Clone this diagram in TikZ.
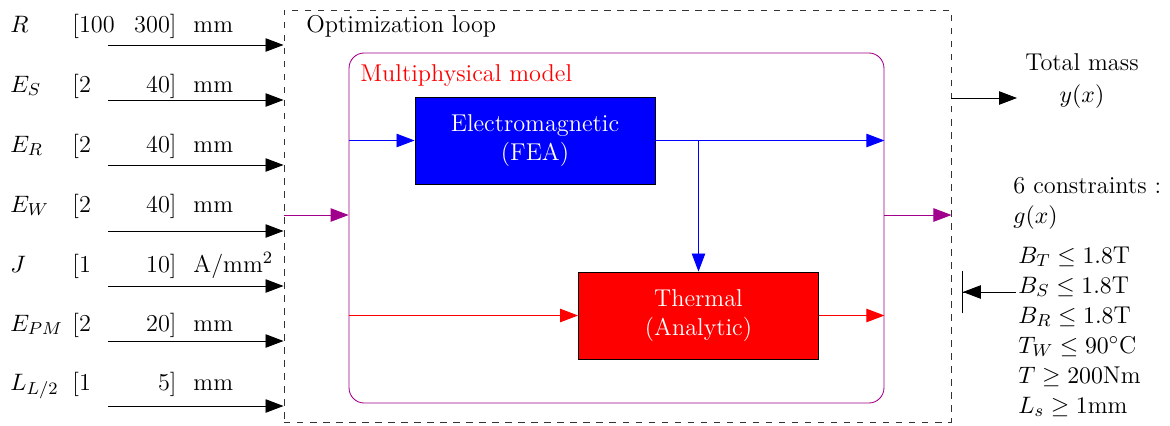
\documentclass[tikz,border=0pt]{standalone}
\usepackage{amsmath}
\usetikzlibrary{arrows.meta, positioning}
\definecolor{mypurple}{HTML}{A0008C}
\newcommand{\ampsqmm}{A/mm$^2$}
\tikzset{
	lbl/.style={
			inner sep=0pt
		},
	loopbox/.style={
			draw=black!80,
			dashed,
			minimum width=307.4pt,
			minimum height=189.8pt,
			inner sep=0pt
		},
	modelbox/.style={
			draw=mypurple,
			rounded corners=7pt,
			minimum width=246.5pt,
			minimum height=161.3pt,
			inner sep=0pt
		},
	modelblock/.style={
			draw=black,
			minimum width=110.6pt,
			minimum height=40.1pt,
			text=white,
			align=center,
			inner sep=0pt
		},
	emblock/.style={
			modelblock,
			fill=blue
		},
	thblock/.style={
			modelblock,
			fill=red
		}
}

\begin{document}
\begin{tikzpicture}[x=0.4608pt, y=-0.4608pt, >={Triangle[length=8.3pt,width=6.2pt]},
    every node/.style={font=\fontsize{11.2}{13.5}\selectfont}]
\useasboundingbox (0,0) rectangle (1170,425);

% optimization loop and model
\node[loopbox] (loop) at (617.5,216) {};
\node[lbl, anchor=base west] (looplbl) at (306,32) {Optimization loop};
\node[modelbox] (model) at (616.5,228) {};
\node[lbl, anchor=base west, text=red] (modellbl) at (360,81) {Multiphysical model};

\node[emblock] (em) at (535,140.5) {Electromagnetic\\(FEA)};
\node[thblock] (th) at (698.5,315.5) {Thermal\\(Analytic)};

\draw[->, blue] (model.west |- em.west) -- (em.west);
\draw[->, blue] (em.east) -- (model.east |- em.east);
\draw[->, blue] (em.east -| th.north) -- (th.north);
\draw[->, red] (model.west |- th.west) -- (th.west);
\draw[->, red] (th.east) -- (model.east |- th.east);

\coordinate (pin) at (284,215);
\draw[->, mypurple] (loop.west |- pin) -- (model.west |- pin);
\draw[->, mypurple] (model.east |- pin) -- (loop.east |- pin);

% design variables
\foreach \v/\lo/\hi/\u/\yl/\ya [count=\i] in {
    R/100/300/mm/32/45,
    E_S/2/40/mm/92/100,
    E_R/2/40/mm/152/165,
    E_W/2/40/mm/212/231,
    J/1/10/\ampsqmm/272/286,
    E_{PM}/2/20/mm/331/341,
    L_{L/2}/1/5/mm/390/406} {
  \node[lbl, anchor=base west] (var\i) at (10,\yl) {$\v$};
  \node[lbl, anchor=base west] (lo\i) at (72,\yl) {[\lo};
  \node[lbl, anchor=base east] (hi\i) at (177,\yl) {\hi]};
  \node[lbl, anchor=base west] (unit\i) at (193,\yl) {\u};
  \coordinate (in\i) at (108,\ya);
  \draw[->] (in\i) -- (loop.west |- in\i);
}

% outputs
\node[lbl, anchor=base] (mass) at (1082,70) {Total mass};
\node[lbl, anchor=base] (yx) at (1082,102) {$y(x)$};
\coordinate (yout) at (1017,98);
\draw[->] (loop.east |- yout) -- (yout);

\node[lbl, anchor=base west] (ncons) at (1013,193) {6 constraints :};
\node[lbl, anchor=base west] (gx) at (1013,223) {$g(x)$};
\foreach \c [count=\i] in {B_T \leq 1.8\text{T}, B_S \leq 1.8\text{T}, B_R \leq 1.8\text{T},
    T_W \leq 90^\circ\text{C}, T \geq 200\text{Nm}, L_s \geq 1\text{mm}} {
  \node[lbl, anchor=base west] (cons\i) at (1018,233+30*\i) {$\c$};
}
\coordinate (cin) at (1016,292);
\coordinate (cbar) at (962,292);
\draw[-{Triangle[length=8.3pt,width=6.2pt] Bar[width=19.4pt]}] (cin) -- (cbar);
\end{tikzpicture}
\end{document}
